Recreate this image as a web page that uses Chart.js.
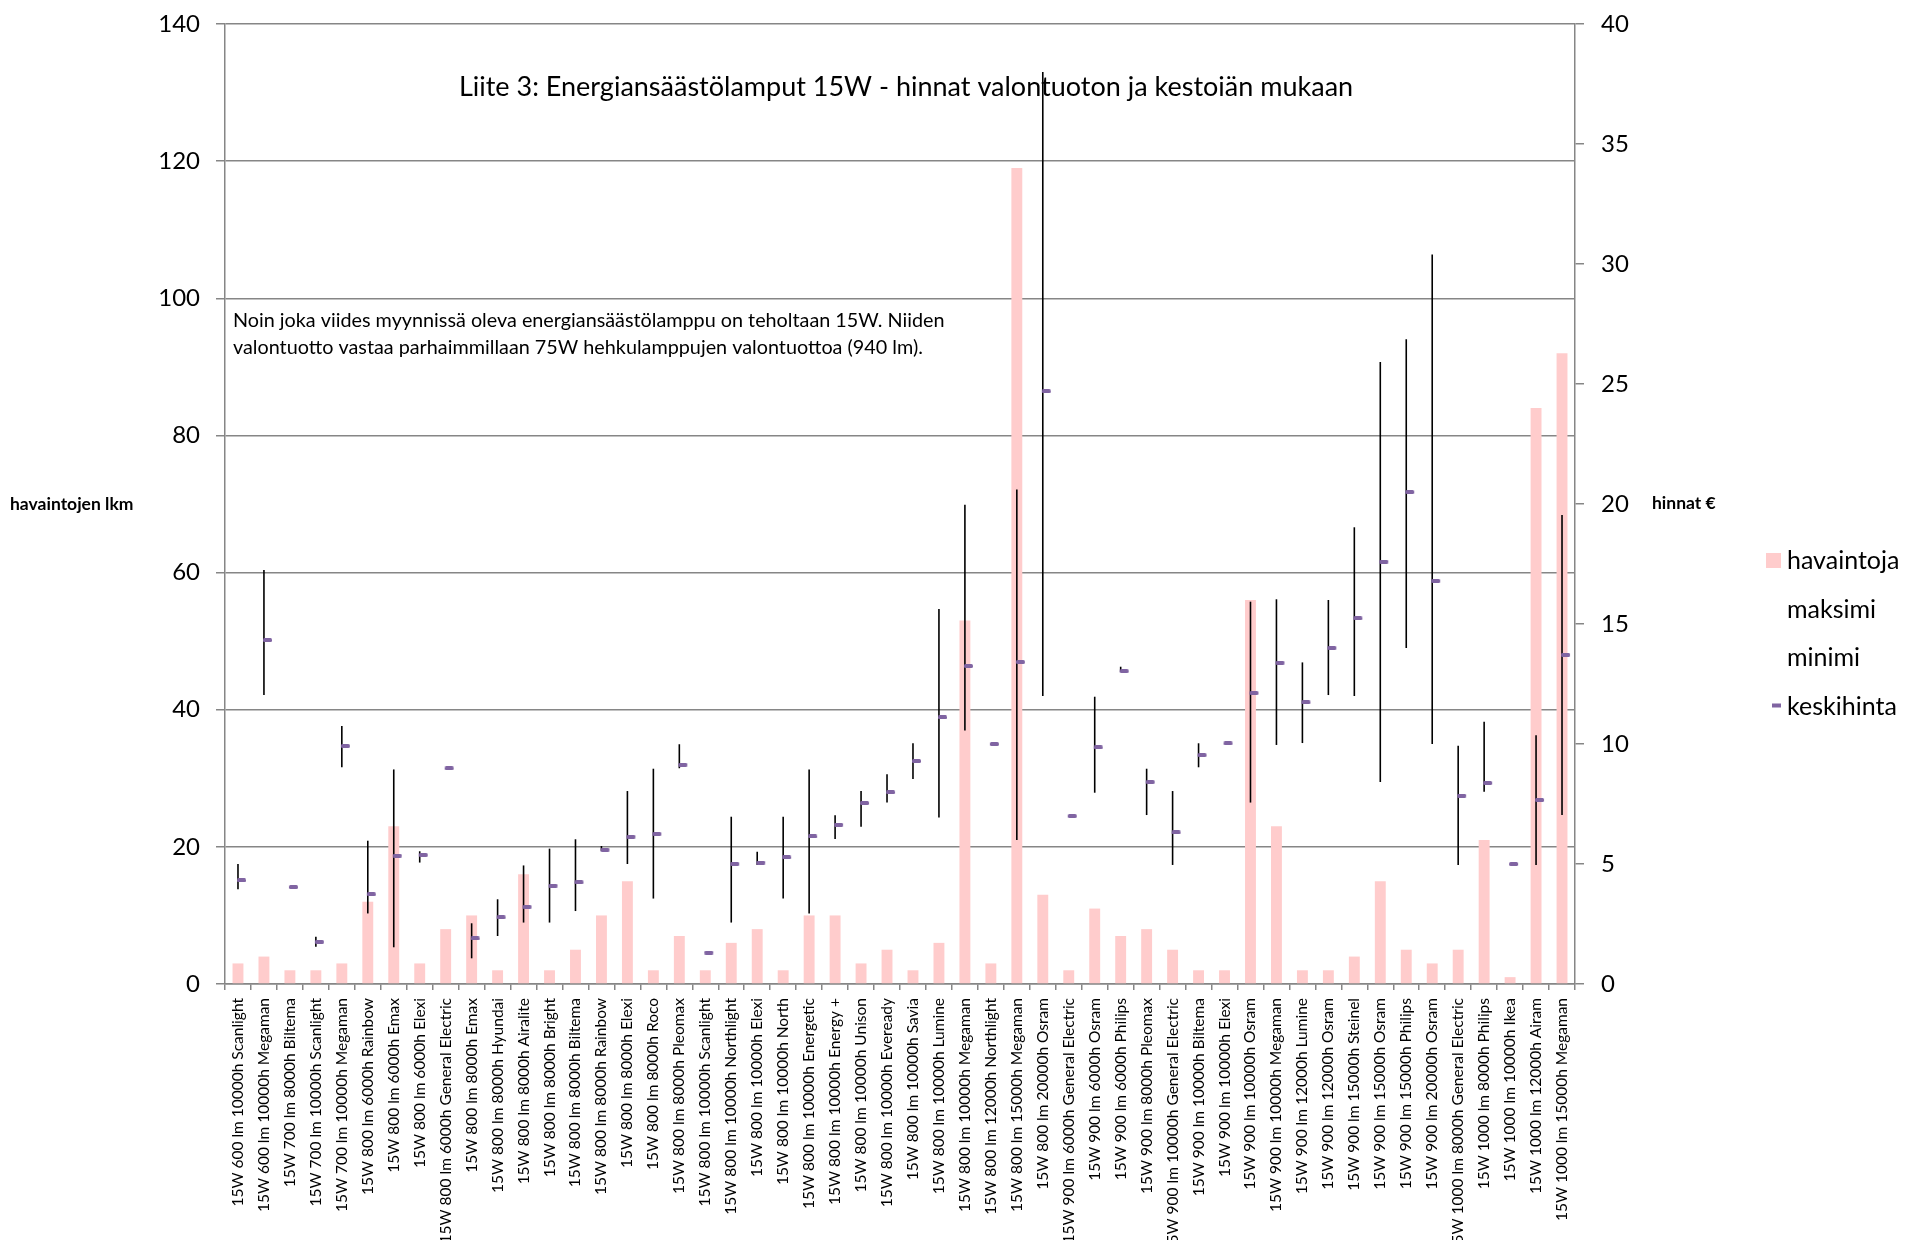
<!DOCTYPE html>
<html lang="fi">
<head>
<meta charset="utf-8">
<title>Liite 3: Energiansäästölamput 15W</title>
<script src="https://cdn.jsdelivr.net/npm/chart.js@4.4.1/dist/chart.umd.min.js"></script>
<style>
  html, body { margin: 0; padding: 0; background: #fff; }
  #kehys { width: 1905px; height: 1240px; }
</style>
</head>
<body>
<div id="kehys"><canvas id="kaavio" width="1905" height="1240"></canvas></div>
<script>
// lamput (luokat)
const lamput = [
    '15W 600 lm 10000h Scanlight', '15W 600 lm 10000h Megaman', '15W 700 lm 8000h Biltema',
    '15W 700 lm 10000h Scanlight', '15W 700 lm 10000h Megaman', '15W 800 lm 6000h Rainbow',
    '15W 800 lm 6000h Emax', '15W 800 lm 6000h Elexi', '15W 800 lm 6000h General Electric',
    '15W 800 lm 8000h Emax', '15W 800 lm 8000h Hyundai', '15W 800 lm 8000h Airalite',
    '15W 800 lm 8000h Bright', '15W 800 lm 8000h Biltema', '15W 800 lm 8000h Rainbow',
    '15W 800 lm 8000h Elexi', '15W 800 lm 8000h Roco', '15W 800 lm 8000h Pleomax',
    '15W 800 lm 10000h Scanlight', '15W 800 lm 10000h Northlight', '15W 800 lm 10000h Elexi',
    '15W 800 lm 10000h North', '15W 800 lm 10000h Energetic', '15W 800 lm 10000h Energy +',
    '15W 800 lm 10000h Unison', '15W 800 lm 10000h Eveready', '15W 800 lm 10000h Savia',
    '15W 800 lm 10000h Lumine', '15W 800 lm 10000h Megaman', '15W 800 lm 12000h Northlight',
    '15W 800 lm 15000h Megaman', '15W 800 lm 20000h Osram', '15W 900 lm 6000h General Electric',
    '15W 900 lm 6000h Osram', '15W 900 lm 6000h Philips', '15W 900 lm 8000h Pleomax',
    '15W 900 lm 10000h General Electric', '15W 900 lm 10000h Biltema', '15W 900 lm 10000h Elexi',
    '15W 900 lm 10000h Osram', '15W 900 lm 10000h Megaman', '15W 900 lm 12000h Lumine',
    '15W 900 lm 12000h Osram', '15W 900 lm 15000h Steinel', '15W 900 lm 15000h Osram',
    '15W 900 lm 15000h Philips', '15W 900 lm 20000h Osram', '15W 1000 lm 8000h General Electric',
    '15W 1000 lm 8000h Philips', '15W 1000 lm 10000h Ikea', '15W 1000 lm 12000h Airam',
    '15W 1000 lm 15000h Megaman'
];

// havaintojen lukumäärä (vasen akseli)
const havaintoja = [
    3, 4, 2, 2, 3, 12, 23, 3, 8, 10, 2, 16, 2, 5, 10, 15, 2, 7, 2, 6, 8, 2, 10, 10, 3, 5,
    2, 6, 53, 3, 119, 13, 2, 11, 7, 8, 5, 2, 2, 56, 23, 2, 2, 4, 15, 5, 3, 5, 21, 1, 84, 92
];

// hinnat € (oikea akseli)
const maksimi = [
    5.0, 17.25, 4.04, 1.97, 10.75, 5.97, 8.94, 5.53, 8.99, 2.53, 3.53, 4.94, 5.64, 6.03, 5.75, 8.04,
    8.97, 9.99, 1.31, 6.97, 5.51, 6.97, 8.94, 7.03, 8.04, 8.74, 10.03, 15.63, 19.97, 10.0, 20.6, 38.0,
    7.0, 11.97, 13.22, 8.97, 8.04, 10.03, 10.03, 15.93, 16.03, 13.4, 16.0, 19.03, 25.92, 26.86, 30.4,
    9.93, 10.93, 5.0, 10.36, 19.54
];
const minimi = [
    3.95, 12.04, 4.04, 1.55, 9.03, 2.94, 1.53, 5.06, 8.99, 1.07, 2.0, 2.56, 2.56, 3.04, 5.55, 5.0,
    3.56, 8.99, 1.31, 2.56, 4.96, 3.56, 2.94, 6.04, 6.55, 7.56, 8.54, 6.94, 10.56, 10.0, 6.0, 12.0,
    7.0, 7.97, 13.0, 7.04, 4.96, 9.03, 10.03, 7.56, 9.96, 10.04, 12.04, 12.0, 8.42, 14.0, 10.0,
    4.96, 8.01, 5.0, 4.96, 7.04
];
const keskihinta = [
    4.32, 14.33, 4.04, 1.76, 9.92, 3.74, 5.35, 5.38, 8.99, 1.9, 2.78, 3.22, 4.1, 4.24, 5.6, 6.14,
    6.26, 9.14, 1.31, 5.01, 5.06, 5.28, 6.15, 6.64, 7.54, 7.99, 9.29, 11.11, 13.25, 10.0, 13.42, 24.7,
    7.0, 9.86, 13.04, 8.42, 6.32, 9.54, 10.03, 12.13, 13.39, 11.74, 14.01, 15.24, 17.6, 20.5, 16.8,
    7.85, 8.38, 5.0, 7.67, 13.72
];

// akselien jaot
const lkmAsteikko = [0, 20, 40, 60, 80, 100, 120, 140];
const hintaAsteikko = [0, 5, 10, 15, 20, 25, 30, 35, 40];

const fontti = 'Lato, "Liberation Sans", sans-serif';
const harmaa = '#868686';
const violetti = '#8064A2';

// keskihinnan merkki: lyhyt viiva, joka alkaa hieman pystyviivan vasemmalta puolelta
const viivaMerkki = document.createElement('canvas');
viivaMerkki.width = 18;
viivaMerkki.height = 4;
(function () {
    const c = viivaMerkki.getContext('2d');
    c.fillStyle = violetti;
    c.beginPath();
    c.roundRect(8, 0, 9, 4, 1.5);
    c.fill();
})();

// pystyviivat minimistä maksimiin, piirretään ennen keskihintoja
const hiLoViivat = {
    id: 'hiLoViivat',
    beforeDatasetDraw(chart, args) {
        if (chart.data.datasets[args.index].label !== 'keskihinta') return;
        const x = chart.scales.x, y1 = chart.scales.y1, ctx = chart.ctx;
        ctx.save();
        ctx.strokeStyle = '#000';
        ctx.lineWidth = 1.6;
        maksimi.forEach((m, i) => {
            const px = x.getPixelForValue(i);
            ctx.beginPath();
            ctx.moveTo(px, y1.getPixelForValue(m));
            ctx.lineTo(px, y1.getPixelForValue(minimi[i]));
            ctx.stroke();
        });
        ctx.restore();
    }
};

// otsikko, selitys, akselien nimet ja selite
const tekstit = {
    id: 'tekstit',
    afterDraw(chart) {
        const ctx = chart.ctx;
        ctx.save();
        ctx.fillStyle = '#000';
        ctx.textBaseline = 'middle';

        ctx.textAlign = 'center';
        ctx.font = '27px ' + fontti;
        ctx.fillText('Liite 3: Energiansäästölamput 15W - hinnat valontuoton ja kestoiän mukaan', 906, 87);

        ctx.textAlign = 'left';
        ctx.font = '19.8px ' + fontti;
        ctx.fillText('Noin joka viides myynnissä oleva energiansäästölamppu on teholtaan 15W. Niiden', 233, 321);
        ctx.fillText('valontuotto vastaa parhaimmillaan 75W hehkulamppujen valontuottoa (940 lm).', 233, 348);

        ctx.font = 'bold 17.5px ' + fontti;
        ctx.fillText('havaintojen lkm', 10, 504);
        ctx.fillText('hinnat €', 1652, 503);

        // selite
        ctx.font = '25px ' + fontti;
        chart.data.datasets.forEach((ds, i) => {
            const y = 560 + i * 48.5;
            if (ds.merkki === 'laatikko') {
                ctx.fillStyle = ds.backgroundColor;
                ctx.fillRect(1766, y - 7, 15, 15);
            } else if (ds.merkki === 'viiva') {
                ctx.fillStyle = violetti;
                ctx.fillRect(1772, y - 2, 9, 4);
            }
            ctx.fillStyle = '#000';
            ctx.fillText(ds.label, 1787, y + 1);
        });
        ctx.restore();
    }
};

new Chart(document.getElementById('kaavio'), {
    type: 'bar',
    data: {
        labels: lamput,
        datasets: [
            {
                label: 'havaintoja',
                data: havaintoja,
                yAxisID: 'y',
                backgroundColor: '#FFCCCC',
                barPercentage: 0.42,
                categoryPercentage: 1,
                order: 2,
                merkki: 'laatikko'
            },
            {
                type: 'line', label: 'maksimi', data: maksimi, yAxisID: 'y1',
                showLine: false, pointRadius: 0, order: 1
            },
            {
                type: 'line', label: 'minimi', data: minimi, yAxisID: 'y1',
                showLine: false, pointRadius: 0, order: 1
            },
            {
                type: 'line', label: 'keskihinta', data: keskihinta, yAxisID: 'y1',
                showLine: false, pointStyle: viivaMerkki, pointRadius: 5,
                order: 0, merkki: 'viiva'
            }
        ]
    },
    options: {
        responsive: false,
        animation: false,
        devicePixelRatio: 1,
        events: [],
        layout: { padding: { top: 24, left: 0, right: 0, bottom: 0 } },
        plugins: { legend: { display: false }, tooltip: { enabled: false } },
        scales: {
            x: {
                offset: true,
                grid: { offset: true, drawOnChartArea: false, tickLength: 6, color: harmaa, lineWidth: 1.5 },
                border: { color: harmaa, width: 1.5 },
                ticks: {
                    autoSkip: false, minRotation: 90, maxRotation: 90, padding: 8,
                    color: '#000', font: { family: fontti, size: 15.5 }
                },
                afterFit(s) { s.height = 256; }
            },
            y: {
                position: 'left',
                min: lkmAsteikko[0],
                max: lkmAsteikko[lkmAsteikko.length - 1],
                afterBuildTicks(s) { s.ticks = lkmAsteikko.map(v => ({ value: v })); },
                ticks: { padding: 16, color: '#000', font: { family: fontti, size: 24 } },
                grid: { color: harmaa, lineWidth: 1.5, tickLength: 9 },
                border: { color: harmaa, width: 1.5 },
                afterFit(s) { s.width = 225; s.paddingTop = 0; s.paddingBottom = 0; }
            },
            y1: {
                position: 'right',
                min: hintaAsteikko[0],
                max: hintaAsteikko[hintaAsteikko.length - 1],
                afterBuildTicks(s) { s.ticks = hintaAsteikko.map(v => ({ value: v })); },
                ticks: { padding: 17, color: '#000', font: { family: fontti, size: 24 } },
                grid: { drawOnChartArea: false, color: harmaa, lineWidth: 1.5, tickLength: 9 },
                border: { color: harmaa, width: 1.5 },
                afterFit(s) { s.width = 330; s.paddingTop = 0; s.paddingBottom = 0; }
            }
        }
    },
    plugins: [hiLoViivat, tekstit]
});
</script>
</body>
</html>
